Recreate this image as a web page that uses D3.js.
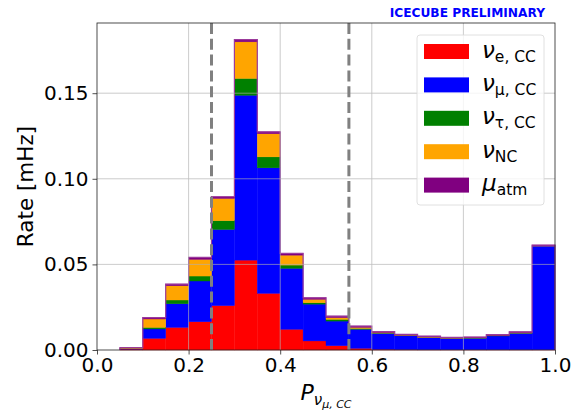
<!DOCTYPE html>
<html lang="en">
<head>
<meta charset="utf-8" />
<title>Rate vs P_numu,CC</title>
<script src="https://cdn.jsdelivr.net/npm/d3@7"></script>
<style>
	body { margin: 0; background: #fff; }
	svg { font-family: "DejaVu Sans", sans-serif; }
</style>
</head>
<body>
<script>

	// bin left edges (width 0.05)
	var binEdges = [0.00, 0.05, 0.10, 0.15, 0.20, 0.25, 0.30, 0.35, 0.40, 0.45,
	                0.50, 0.55, 0.60, 0.65, 0.70, 0.75, 0.80, 0.85, 0.90, 0.95];
	var binWidth = 0.05;

	// rates in mHz per component
	var nueCC   = [0, 0.0005, 0.0068, 0.0132, 0.0165, 0.0259, 0.0525, 0.0331, 0.0121, 0.0053,
	               0.0025, 0.0010, 0.0004, 0.0002, 0.0001, 0.0001, 0.0001, 0.0001, 0.0001, 0.0001];
	var numuCC  = [0, 0.0003, 0.0055, 0.0138, 0.0238, 0.0445, 0.0963, 0.0733, 0.0356, 0.0215,
	               0.0144, 0.0111, 0.0093, 0.0082, 0.0072, 0.0067, 0.0068, 0.0081, 0.0097, 0.0606];
	var nutauCC = [0, 0.0001, 0.0009, 0.0022, 0.0029, 0.0051, 0.0098, 0.0064, 0.0019, 0.0008,
	               0.0010, 0.0005, 0.0002, 0.0001, 0.0001, 0.0001, 0.0001, 0.0001, 0.0001, 0.0000];
	var nuNC    = [0, 0.0003, 0.0049, 0.0083, 0.0097, 0.0130, 0.0214, 0.0135, 0.0058, 0.0020,
	               0.0010, 0.0006, 0.0003, 0.0002, 0.0002, 0.0001, 0.0002, 0.0002, 0.0002, 0.0001];
	var muAtm   = [0, 0.0001, 0.0008, 0.0010, 0.0012, 0.0010, 0.0013, 0.0011, 0.0010, 0.0009,
	               0.0009, 0.0008, 0.0005, 0.0005, 0.0005, 0.0004, 0.0004, 0.0005, 0.0005, 0.0005];

	var seriesNames  = ['nueCC', 'numuCC', 'nutauCC', 'nuNC', 'muAtm'];
	var seriesColors = ['#ff0000', '#0000ff', '#008000', '#ffa500', '#800080'];
	var seriesValues = [nueCC, numuCC, nutauCC, nuNC, muAtm];

	var xTicks = [0.0, 0.2, 0.4, 0.6, 0.8, 1.0];
	var yTicks = [0.00, 0.05, 0.10, 0.15];
	var cutLines = [0.25, 0.55];

	var W = 571, H = 415;
	var margin = {left: 97, right: 16, top: 23, bottom: 65};

	var svg = d3.select('body').append('svg')
		.attr('width', W).attr('height', H);

	var x = d3.scaleLinear().domain([0, 1]).range([margin.left, W - margin.right]);
	var y = d3.scaleLinear().domain([0, 0.191]).range([H - margin.bottom, margin.top]);

	// build stacked table
	var rows = binEdges.map(function(e, i) {
		var r = {x0: e};
		seriesNames.forEach(function(n, k) { r[n] = seriesValues[k][i]; });
		return r;
	});
	var stacked = d3.stack().keys(seriesNames)(rows);

	var plot = svg.append('g');

	stacked.forEach(function(layer, k) {
		plot.append('g')
			.selectAll('rect')
			.data(layer)
			.enter()
			.append('rect')
			.attr('x', function(d) { return x(d.data.x0); })
			.attr('width', function(d) { return x(d.data.x0 + binWidth) - x(d.data.x0); })
			.attr('y', function(d) { return y(d[1]); })
			.attr('height', function(d) { return Math.max(0, y(d[0]) - y(d[1])); })
			.attr('fill', seriesColors[k])
			.attr('stroke', seriesColors[k])
			.attr('stroke-width', 0.4);
	});

	// outline of the total, step style
	var topLayer = stacked[stacked.length - 1];
	var stepPts = [];
	topLayer.forEach(function(d) {
		if (d[1] <= 0) return;
		if (stepPts.length === 0) stepPts.push([x(d.data.x0), y(0)]);
		stepPts.push([x(d.data.x0), y(d[1])]);
		stepPts.push([x(d.data.x0 + binWidth), y(d[1])]);
	});
	stepPts.push([stepPts[stepPts.length - 1][0], y(0)]);
	plot.append('path')
		.attr('d', d3.line()(stepPts))
		.attr('fill', 'none')
		.attr('stroke', '#9b3a9b')
		.attr('stroke-width', 1.2);

	// grid on top
	var grid = svg.append('g').attr('stroke', '#b0b0b0').attr('stroke-width', 0.8).attr('opacity', 0.8);
	grid.selectAll('.gx').data(xTicks.slice(1, -1)).enter().append('line')
		.attr('x1', function(d) { return x(d); }).attr('x2', function(d) { return x(d); })
		.attr('y1', y.range()[0]).attr('y2', y.range()[1]);
	grid.selectAll('.gy').data(yTicks.slice(1)).enter().append('line')
		.attr('y1', function(d) { return y(d); }).attr('y2', function(d) { return y(d); })
		.attr('x1', x.range()[0]).attr('x2', x.range()[1]);

	// cut lines
	svg.append('g').selectAll('line').data(cutLines).enter().append('line')
		.attr('x1', function(d) { return x(d); }).attr('x2', function(d) { return x(d); })
		.attr('y1', y.range()[1]).attr('y2', y.range()[0])
		.attr('stroke', '#808080').attr('stroke-width', 3)
		.attr('stroke-dasharray', '11,4.8');

	// frame
	svg.append('rect')
		.attr('x', x(0)).attr('y', y.range()[1])
		.attr('width', x(1) - x(0)).attr('height', y.range()[0] - y.range()[1])
		.attr('fill', 'none').attr('stroke', '#222').attr('stroke-width', 0.8);

	// axes
	var xAxis = svg.append('g')
		.attr('transform', 'translate(0,' + y.range()[0] + ')')
		.call(d3.axisBottom(x).tickValues(xTicks).tickFormat(d3.format('.1f')).tickSize(4.5).tickPadding(3));
	var yAxis = svg.append('g')
		.attr('transform', 'translate(' + x.range()[0] + ',0)')
		.call(d3.axisLeft(y).tickValues(yTicks).tickFormat(d3.format('.2f')).tickSize(4.5).tickPadding(4));
	[xAxis, yAxis].forEach(function(a) {
		a.select('.domain').remove();
		a.selectAll('line').attr('stroke', '#222').attr('stroke-width', 0.8);
		a.selectAll('text').attr('font-size', 20).attr('fill', '#000')
			.attr('font-family', '"DejaVu Sans", sans-serif');
	});

	// axis labels
	svg.append('text')
		.attr('transform', 'translate(33,' + ((y.range()[0] + y.range()[1]) / 2) + ') rotate(-90)')
		.attr('text-anchor', 'middle')
		.attr('font-size', 21.5)
		.text('Rate [mHz]');

	var xl = svg.append('text')
		.attr('x', (x(0) + x(1)) / 2).attr('y', 400)
		.attr('text-anchor', 'middle')
		.attr('font-size', 22);
	xl.append('tspan').attr('font-style', 'italic').text('P');
	xl.append('tspan').attr('font-size', 15).attr('dy', 5).attr('font-style', 'italic').text('ν');
	xl.append('tspan').attr('font-size', 11).attr('dy', 3).attr('font-style', 'italic').text('μ, CC');

	// title
	svg.append('text')
		.attr('x', 545).attr('y', 17)
		.attr('text-anchor', 'end')
		.attr('font-size', 12.2)
		.attr('font-weight', 'bold')
		.attr('fill', '#0000ff')
		.text('ICECUBE PRELIMINARY');

	// legend
	var legendLabels = [['ν', 'e, CC'], ['ν', 'μ, CC'], ['ν', 'τ, CC'], ['ν', 'NC'], ['μ', 'atm']];
	var lg = svg.append('g');
	lg.append('rect')
		.attr('x', 417).attr('y', 35).attr('width', 127).attr('height', 170).attr('rx', 3)
		.attr('fill', '#fff').attr('fill-opacity', 0.8)
		.attr('stroke', '#d8d8d8').attr('stroke-width', 0.8);
	legendLabels.forEach(function(l, i) {
		var cy = 51.5 + i * 33.4;
		lg.append('rect')
			.attr('x', 424).attr('y', cy - 7.5).attr('width', 45).attr('height', 15)
			.attr('fill', seriesColors[i]);
		var t = lg.append('text').attr('x', 482).attr('y', cy + 6).attr('font-size', 23);
		t.append('tspan').attr('font-style', 'italic').text(l[0]);
		t.append('tspan').attr('font-size', 15.5).attr('dy', 4).text(l[1]);
	});

</script>
</body>
</html>
